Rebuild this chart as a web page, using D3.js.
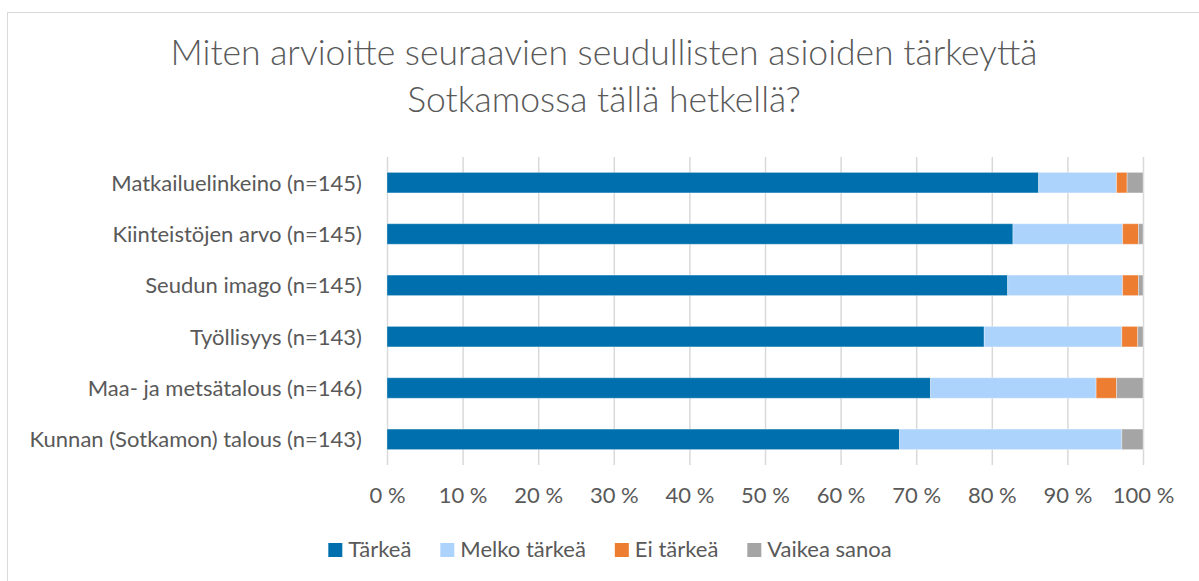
<!DOCTYPE html>
<html lang="fi">
<head>
  <meta charset="UTF-8">
  <title>Seudullisten asioiden tärkeys</title>
  <style>
    body { margin: 0; background: #fff; }
    svg { display: block; font-family: Lato, "Open Sans", sans-serif; }
  </style>
</head>
<body>
  <svg id="chart" width="1199" height="581"></svg>

  <script src="https://cdn.jsdelivr.net/npm/d3@7/dist/d3.min.js"></script>
  <script>
    // kategoriat ylhäältä alas
    var categories = [
      "Matkailuelinkeino (n=145)",
      "Kiinteistöjen arvo (n=145)",
      "Seudun imago (n=145)",
      "Työllisyys (n=143)",
      "Maa- ja metsätalous (n=146)",
      "Kunnan (Sotkamon) talous (n=143)"
    ];
    var seriesNames = ["Tärkeä", "Melko tärkeä", "Ei tärkeä", "Vaikea sanoa"];
    // prosentit, sama järjestys kuin categories
    var tarkea      = [86.2, 82.8, 82.1, 79.0, 71.9, 67.8];
    var melkoTarkea = [10.3, 14.5, 15.2, 18.2, 21.9, 29.4];
    var eiTarkea    = [1.4, 2.1, 2.1, 2.1, 2.7, 0.0];
    var vaikeaSanoa = [2.1, 0.7, 0.7, 0.7, 3.5, 2.8];
    var tickValues = [0, 10, 20, 30, 40, 50, 60, 70, 80, 90, 100];
    var colors = ["#006fad", "#acd3fc", "#ed7d31", "#a5a5a5"];

    var svg = d3.select("#chart"),
      textColor = "#595959",
      margin = {left: 387, right: 56, top: 157, bottom: 116},
      width = 1199, height = 581;

    var rows = categories.map(function (c, i) {
      return {cat: c, vals: [tarkea[i], melkoTarkea[i], eiTarkea[i], vaikeaSanoa[i]]};
    });

    var x = d3.scaleLinear().domain([0, 100]).range([margin.left, width - margin.right]);
    var y = d3.scaleBand().domain(categories)
      .range([margin.top, height - margin.bottom])
      .paddingInner(0.6).paddingOuter(0.3);

    // kehys
    svg.append("rect")
      .attr("x", 7.5).attr("y", 12.5)
      .attr("width", 1250).attr("height", 700)
      .attr("fill", "none").attr("stroke", "#d9d9d9");

    // otsikko
    var title = svg.append("text")
      .attr("text-anchor", "middle")
      .attr("fill", textColor)
      .attr("font-size", 35.5)
      .attr("font-weight", 300);
    title.append("tspan").attr("x", 604).attr("y", 65)
      .text("Miten arvioitte seuraavien seudullisten asioiden tärkeyttä");
    title.append("tspan").attr("x", 604).attr("y", 112)
      .text("Sotkamossa tällä hetkellä?");

    // pystyviivat
    svg.append("g").selectAll("line")
      .data(tickValues)
      .join("line")
      .attr("x1", function (d) { return x(d) + 0.5; })
      .attr("x2", function (d) { return x(d) + 0.5; })
      .attr("y1", margin.top).attr("y2", height - margin.bottom)
      .attr("stroke", "#d9d9d9").attr("stroke-width", 1.5);

    // pinotut palkit
    var stack = rows.map(function (r) {
      var acc = 0;
      return r.vals.map(function (v, k) {
        var seg = {cat: r.cat, k: k, x0: acc, x1: acc + v};
        acc += v;
        return seg;
      });
    });

    svg.append("g").selectAll("g")
      .data(stack)
      .join("g")
      .selectAll("rect")
      .data(function (d) { return d.filter(function (s) { return s.x1 > s.x0; }); })
      .join("rect")
      .attr("x", function (d) { return x(d.x0); })
      .attr("width", function (d) { return x(Math.min(d.x1, 100)) - x(d.x0); })
      .attr("y", function (d) { return y(d.cat); })
      .attr("height", y.bandwidth())
      .attr("fill", function (d) { return colors[d.k]; })
      .attr("stroke", "#fff").attr("stroke-opacity", 0.35).attr("stroke-width", 1);

    // kategorianimet
    svg.append("g").selectAll("text")
      .data(categories)
      .join("text")
      .attr("x", 362)
      .attr("y", function (d) { return y(d) + y.bandwidth() / 2; })
      .attr("dy", "0.36em")
      .attr("text-anchor", "end")
      .attr("fill", textColor)
      .attr("font-size", 22)
      .text(function (d) { return d; });

    // x-akselin tekstit
    var xAxis = d3.axisBottom(x)
      .tickValues(tickValues)
      .tickSize(0)
      .tickPadding(0)
      .tickFormat(function (d) { return d + " %"; });
    var ax = svg.append("g")
      .attr("transform", "translate(0," + 487 + ")")
      .call(xAxis);
    ax.select(".domain").remove();
    ax.selectAll("text")
      .attr("fill", textColor)
      .attr("font-size", 22)
      .attr("font-family", "Lato, 'Open Sans', sans-serif");

    // selite
    var legend = svg.append("g");
    var items = legend.selectAll("g")
      .data(seriesNames)
      .join("g");
    items.append("rect")
      .attr("width", 14).attr("height", 14)
      .attr("y", 543)
      .attr("fill", function (d, i) { return colors[i]; });
    items.append("text")
      .attr("x", 20).attr("y", 557)
      .attr("fill", textColor)
      .attr("font-size", 22)
      .text(function (d) { return d; });

    var widths = [];
    items.each(function () {
      widths.push(20 + d3.select(this).select("text").node().getComputedTextLength());
    });
    var gap = 29,
      total = d3.sum(widths) + gap * (widths.length - 1),
      pos = 610 - total / 2;
    items.attr("transform", function (d, i) {
      var px = pos;
      pos += widths[i] + gap;
      return "translate(" + px + ",0)";
    });
  </script>
</body>
</html>
